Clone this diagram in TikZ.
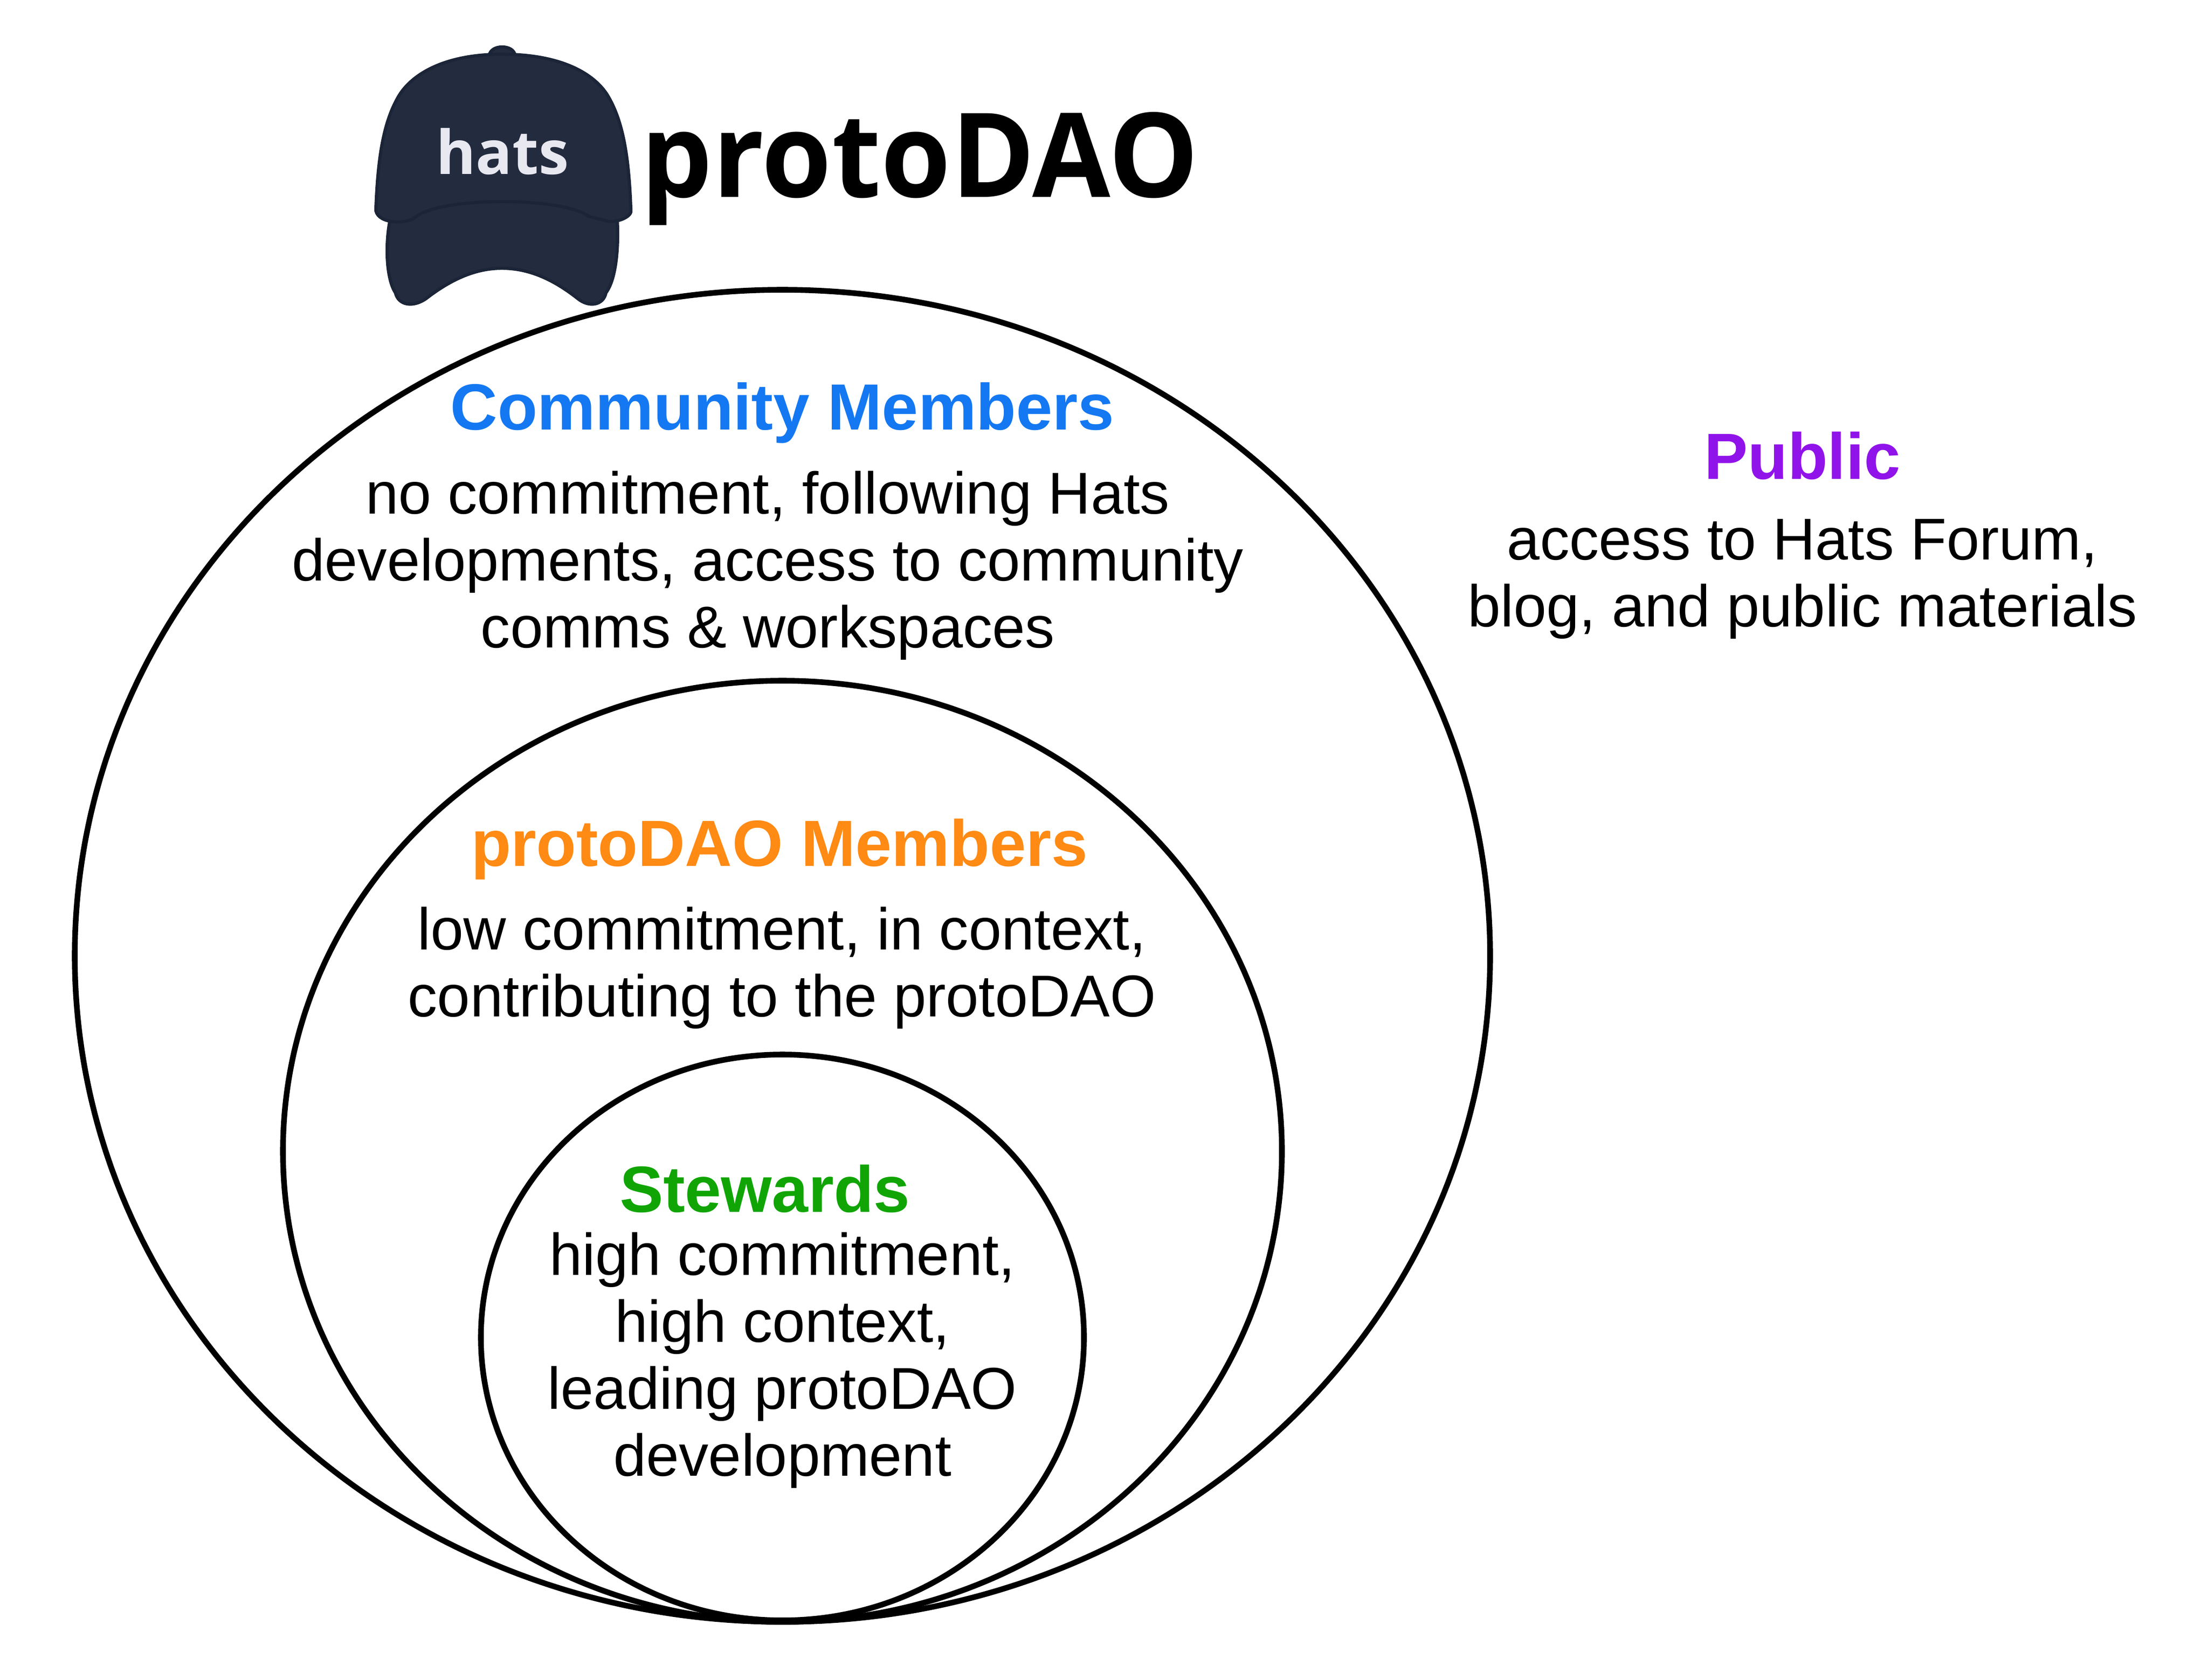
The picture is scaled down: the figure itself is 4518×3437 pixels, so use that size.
\documentclass[tikz,border=0pt]{standalone}
\usepackage{fontspec}
\setmainfont{Liberation Sans}
\newfontfamily\logofont{Open Sans}
\newfontfamily\titlefont[FakeStretch=0.965]{Open Sans}
\definecolor{capfill}{HTML}{232B3E}
\definecolor{capline}{HTML}{1B2537}
\definecolor{capword}{HTML}{E8E8F1}
\definecolor{commblue}{HTML}{1478F2}
\definecolor{protoorange}{HTML}{FF8A14}
\definecolor{stewardgreen}{HTML}{10A505}
\definecolor{publicpurple}{HTML}{9013EA}
\newcommand{\bodysize}{\fontsize{30.2pt}{34.25pt}\selectfont}
\newcommand{\headsize}{\fontsize{33.4pt}{36pt}\selectfont\bfseries}
\tikzset{
  ring/.style={draw=black,line width=2.9pt,fill=white},
  bodytext/.style={anchor=base,align=center,inner sep=0pt,font=\bodysize},
  headtext/.style={anchor=base,inner sep=0pt,font=\headsize},
  capshape/.style={fill=capfill,draw=capline,line width=1.6pt,line join=round}
}
\begin{document}
\begin{tikzpicture}[x=0.25pt,y=-0.25pt]
\useasboundingbox[fill=white] (0,0) rectangle (4518,3437);
% rings
\draw[ring] (1601,1956) ellipse (1448 and 1363);
\draw[ring] (1601,2356) ellipse (1022 and 963);
\draw[ring] (1601,2737) ellipse (617 and 579);
% cap
\draw[capshape] (798,380) -- (798,450) .. controls (788,500) and (790,570) .. (809,599)
  .. controls (815,625) and (845,630) .. (872,611)
  .. controls (925,570) and (975,549) .. (1027,549)
  .. controls (1080,549) and (1130,570) .. (1182,611)
  .. controls (1205,630) and (1235,625) .. (1240,599)
  .. controls (1262,570) and (1266,500) .. (1263,450) -- (1263,380) -- cycle;
\draw[capshape] (1001,114) .. controls (1003,90) and (1052,90) .. (1054,114) -- cycle;
\draw[capshape] (769,431) .. controls (773,320) and (785,250) .. (815,198)
  .. controls (838,158) and (900,111) .. (1027,111)
  .. controls (1160,111) and (1222,158) .. (1245,198)
  .. controls (1275,250) and (1287,320) .. (1291,431)
  .. controls (1293,445) and (1255,460) .. (1234,450)
  .. controls (1222,447) and (1212,445) .. (1205,443)
  .. controls (1150,402) and (900,402) .. (849,445)
  .. controls (835,458) and (775,460) .. (769,431) -- cycle;
\node[anchor=base,inner sep=0pt,text=capword,font=\logofont\fontsize{31pt}{36pt}\selectfont\bfseries] (hats) at (1028,356) {hats};
\node[anchor=base west,inner sep=0pt,font=\titlefont\fontsize{60pt}{66pt}\selectfont\bfseries] (title) at (1311,403) {protoDAO};
% community
\node[headtext,text=commblue] (commhead) at (1601,879) {Community Members};
\node[bodytext] (commbody) at (1571,1325) {no commitment, following Hats\\developments, access to community\\comms \& workspaces};
% proto
\node[headtext,text=protoorange] (protohead) at (1595,1772) {protoDAO Members};
\node[bodytext] (protobody) at (1600,2080) {low commitment, in context,\\contributing to the protoDAO};
% stewards
\node[headtext,text=stewardgreen] (stewhead) at (1565,2480) {Stewards};
\node[bodytext] (stewbody) at (1601,3020) {high commitment,\\high context,\\leading protoDAO\\development};
% public
\node[headtext,text=publicpurple] (pubhead) at (3688,980) {Public};
\node[bodytext] (pubbody) at (3688,1282) {access to Hats Forum,\\blog, and public materials};
\end{tikzpicture}
\end{document}
